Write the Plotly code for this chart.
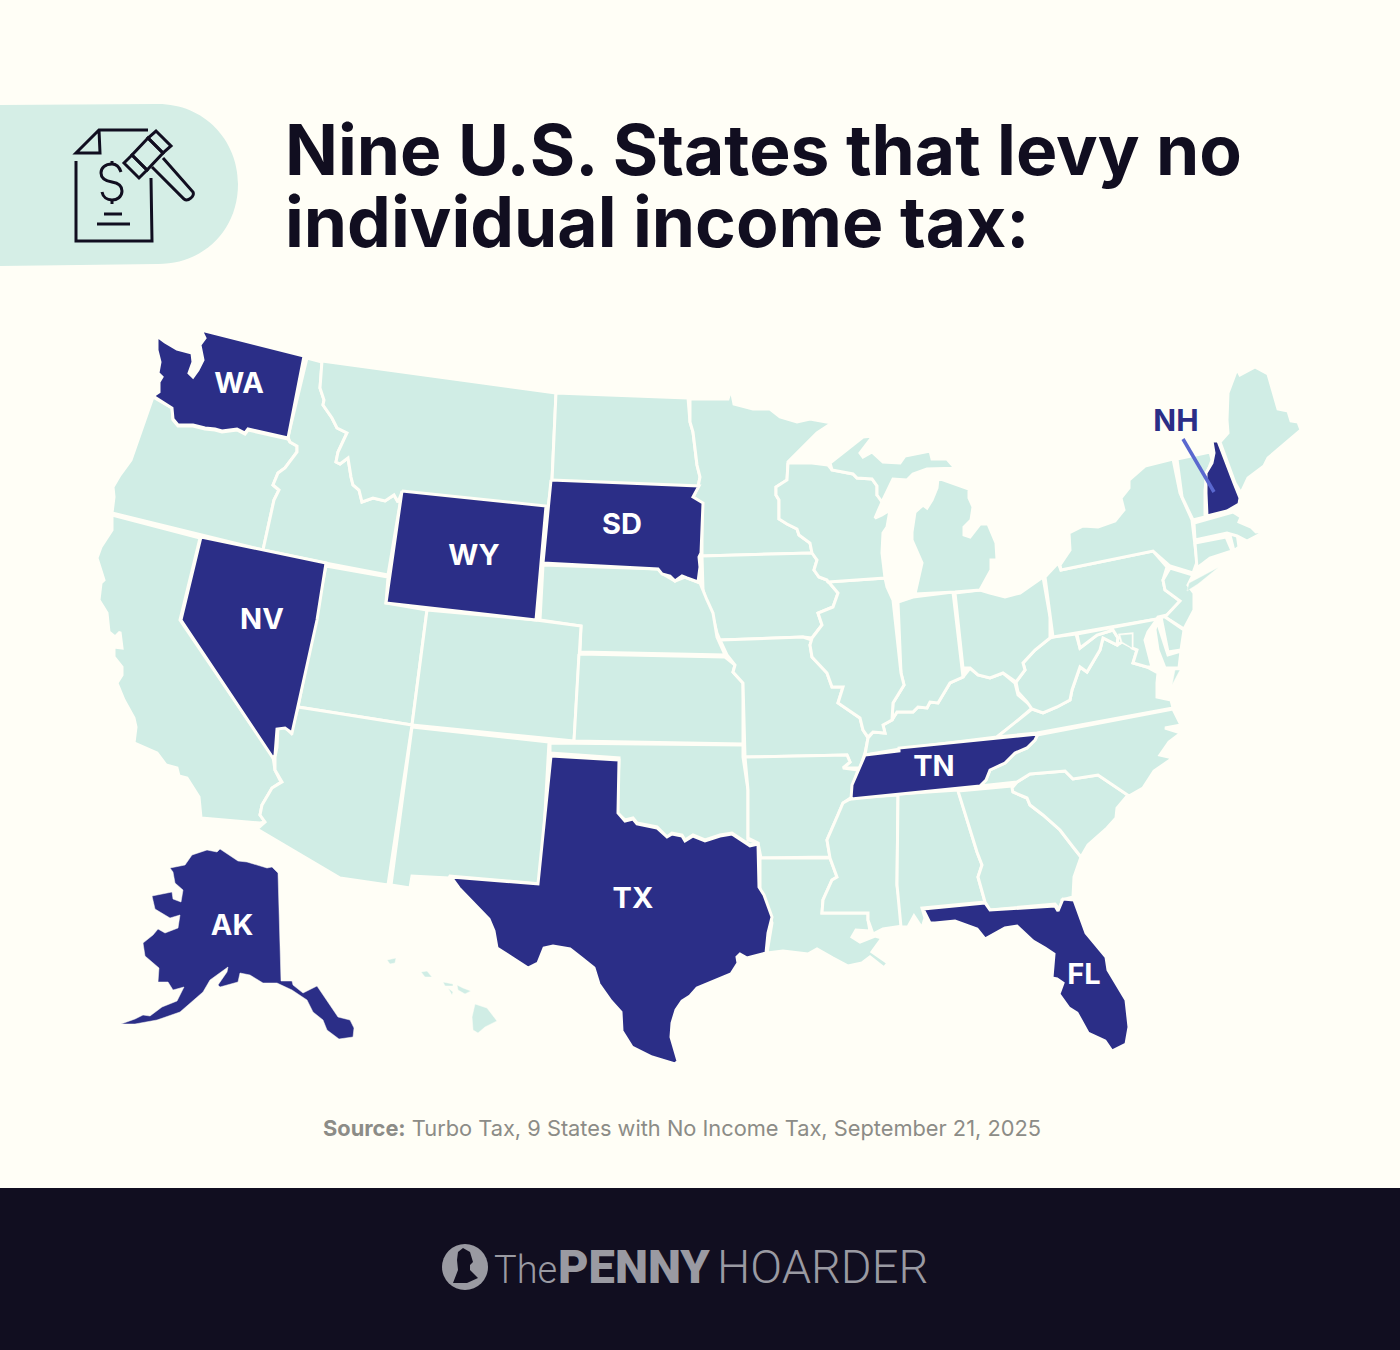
import plotly.graph_objects as go

BG = '#fffef6'
LAND = '#d0ede5'
DARK = '#2b2e87'
INK = '#110e20'
LOGO = '#9a9aa2'

# state outlines (px across, px down)
wa = [(157,336),(165,342),(177,349),(192,353),(193,362),(189,373),(193,377),(198,370),(203,360),(200,345),(205,338),(201,330),(304,356),(288,438),(248,429),(245,433),(237,429),(222,431),(215,429),(205,428),(193,425),(178,425),(173,419),(172,408),(153,396),(159,392),(159,382),(162,377),(158,373),(160,362),(157,350)]
or_ = [(153,397),(172,408),(173,420),(178,426),(193,426),(205,429),(215,430),(222,432),(237,430),(245,434),(248,430),(288,439),(290,442),(297,446),(297,452),(285,468),(278,473),(273,485),(279,490),(274,500),(263,550),(112,513),(114,497),(113,487),(120,475),(131,460)]
ca = [(112,515),(200,538),(180,620),(273,757),(275,770),(281,782),(272,788),(262,805),(260,815),(265,822),(260,823),(201,818),(199,797),(187,778),(179,776),(177,768),(166,765),(157,753),(134,743),(136,727),(134,718),(124,700),(117,683),(122,675),(122,667),(114,657),(114,647),(122,648),(120,632),(115,637),(109,632),(107,613),(99,600),(101,583),(104,580),(97,558),(101,547),(112,530)]
id_ = [(307,358),(322,362),(320,388),(324,400),(323,405),(332,418),(337,428),(347,433),(338,452),(336,462),(340,464),(348,458),(351,477),(353,485),(359,490),(362,502),(373,498),(385,501),(394,495),(398,502),(402,492),(388,575),(325,563),(263,550),(274,500),(279,490),(273,485),(278,473),(285,468),(297,452),(297,446),(290,442),(288,437)]
mt = [(322,361),(556,393),(552,480),(548,507),(402,492),(398,502),(394,495),(385,501),(373,498),(362,502),(359,490),(353,485),(351,477),(348,458),(340,464),(336,462),(338,452),(347,433),(337,428),(332,418),(323,405),(324,400),(320,388)]
wy = [(402,491),(546,506),(536,620),(386,603)]
sd = [(551,480),(699,486),(693,497),(703,503),(701,553),(699,557),(700,567),(698,582),(687,578),(682,576),(675,581),(670,576),(662,574),(658,569),(543,563)]
nd = [(556,393),(688,398),(690,422),(693,432),(697,465),(700,477),(698,487),(552,481)]
mn = [(690,399),(728,399),(731,389),(734,404),(753,409),(770,409),(780,417),(797,422),(810,419),(832,423),(817,433),(788,462),(787,480),(776,487),(776,495),(779,500),(779,519),(787,524),(797,529),(799,535),(810,543),(812,553),(702,556),(702,503),(693,497),(698,487),(700,477),(697,465),(693,432),(690,422)]
ia = [(702,556),(812,553),(817,560),(814,570),(819,577),(827,580),(838,593),(833,607),(818,613),(822,625),(812,638),(803,637),(720,640),(717,633),(713,617),(708,607),(703,590),(702,570)]
ne = [(543,565),(658,569),(663,574),(675,581),(685,577),(700,583),(707,600),(713,613),(717,637),(725,655),(580,652),(581,626),(540,620)]
nv = [(201,537),(326,563),(317,620),(292,733),(285,728),(277,729),(275,755),(273,758),(181,620)]
ut = [(326,566),(388,577),(386,603),(427,610),(412,725),(298,707)]
co = [(427,610),(536,620),(581,626),(574,741),(412,725)]
az = [(298,707),(412,725),(388,885),(340,878),(257,829),(265,822),(260,815),(262,805),(272,788),(282,782),(275,770),(275,757),(277,747),(278,728),(285,727),(291,733)]
nm = [(412,727),(549,742),(541,884),(450,876),(449,878),(412,876),(410,888),(391,885)]
ks = [(579,654),(725,657),(735,665),(733,672),(743,683),(743,744),(574,741)]
ok = [(550,743),(743,745),(743,757),(748,790),(748,840),(758,843),(750,845),(732,833),(720,835),(705,840),(693,835),(685,840),(682,835),(672,833),(667,837),(657,827),(637,823),(633,818),(625,820),(617,813),(619,758),(550,753)]
tx = [(551,756),(619,760),(618,813),(625,821),(633,819),(637,824),(657,828),(667,837),(672,834),(682,836),(685,841),(693,836),(705,841),(720,836),(732,834),(750,846),(758,844),(759,887),(764,895),(772,917),(768,933),(766,953),(747,958),(740,954),(737,957),(738,963),(731,974),(707,984),(697,988),(690,996),(682,1001),(676,1010),(672,1023),(671,1037),(678,1061),(675,1064),(652,1057),(632,1047),(622,1031),(621,1012),(611,1001),(599,984),(594,968),(579,956),(570,949),(553,946),(544,948),(538,963),(528,968),(497,948),(494,931),(489,919),(469,899),(459,888),(451,877),(538,884)]
mo = [(720,640),(803,637),(812,640),(810,645),(812,657),(827,673),(832,687),(843,687),(838,703),(860,718),(863,730),(868,738),(865,753),(860,768),(843,768),(850,762),(847,755),(745,757),(743,683),(733,672),(735,665),(727,655)]
ar = [(745,757),(847,755),(850,762),(843,768),(858,770),(853,785),(852,797),(843,803),(837,817),(827,840),(830,857),(761,858),(758,843),(748,838),(748,790)]
la = [(760,858),(830,858),(837,877),(832,880),(823,900),(822,913),(868,913),(868,920),(870,931),(856,930),(852,937),(860,942),(875,936),(882,938),(872,952),(888,963),(884,968),(870,957),(862,963),(848,966),(833,958),(817,949),(808,954),(783,951),(767,953),(772,923),(760,890)]
ms = [(852,798),(898,795),(897,885),(903,926),(883,929),(873,934),(868,920),(868,913),(822,913),(823,900),(832,880),(837,877),(830,858),(827,840),(837,817),(843,803)]
al = [(898,794),(958,790),(977,852),(982,865),(978,877),(982,890),(985,902),(922,908),(925,918),(922,928),(914,916),(908,927),(901,927),(897,885)]
ga = [(958,791),(1012,786),(1013,792),(1027,798),(1030,805),(1043,815),(1060,830),(1073,847),(1081,857),(1074,877),(1073,897),(1062,900),(1060,910),(1055,904),(990,910),(985,902),(982,890),(978,877),(982,865),(977,852)]
fl = [(923,909),(985,903),(990,910),(1055,906),(1058,911),(1063,899),(1074,900),(1081,920),(1086,933),(1106,957),(1108,970),(1126,1000),(1129,1027),(1126,1044),(1112,1051),(1105,1041),(1088,1033),(1077,1013),(1069,1008),(1059,994),(1063,983),(1057,979),(1052,978),(1054,954),(1045,948),(1033,941),(1017,926),(1005,928),(985,939),(977,929),(955,921),(935,923),(930,923),(927,917)]
sc = [(1012,788),(1017,782),(1030,774),(1065,771),(1073,779),(1098,775),(1128,795),(1117,808),(1116,818),(1107,828),(1088,845),(1081,857),(1073,847),(1060,830),(1043,815),(1030,805),(1027,798),(1013,792)]
nc = [(1037,735),(1173,709),(1181,725),(1165,728),(1181,733),(1169,742),(1160,755),(1173,758),(1154,771),(1143,788),(1129,796),(1098,775),(1073,779),(1065,771),(1030,774),(1017,782),(980,786),(986,780),(990,770),(1005,763),(1015,753),(1027,748),(1035,740)]
tn = [(865,755),(899,751),(899,748),(1038,734),(1035,740),(1027,748),(1015,753),(1005,763),(990,770),(986,780),(980,786),(851,799),(852,785),(857,773)]
ky = [(963,677),(970,668),(978,675),(990,678),(1003,673),(1015,683),(1018,695),(1030,705),(1032,708),(1015,723),(997,737),(900,749),(865,755),(868,738),(873,732),(885,733),(883,725),(892,720),(897,712),(913,712),(918,707),(927,708),(930,702),(938,703),(950,683)]
va = [(997,737),(1015,723),(1032,709),(1043,713),(1057,707),(1070,700),(1072,690),(1080,667),(1087,672),(1100,650),(1103,638),(1117,645),(1122,642),(1137,650),(1133,663),(1147,667),(1158,673),(1157,683),(1157,697),(1171,700),(1173,708),(1037,733)]
wv = [(1016,682),(1025,670),(1023,663),(1035,650),(1050,638),(1053,637),(1076,634),(1080,648),(1097,635),(1113,630),(1118,638),(1117,645),(1103,638),(1100,650),(1087,672),(1080,667),(1072,690),(1070,700),(1057,707),(1043,713),(1032,709),(1027,702),(1018,692)]
oh = [(955,593),(980,590),(990,593),(1005,597),(1020,593),(1043,577),(1050,617),(1050,638),(1035,650),(1023,663),(1025,670),(1016,682),(1003,673),(990,678),(978,675),(970,668),(963,668)]
in_ = [(898,602),(913,597),(953,592),(962,667),(963,677),(950,683),(938,703),(930,702),(927,708),(918,707),(913,712),(897,712),(892,720),(893,703),(904,685),(901,673)]
il = [(828,582),(885,578),(887,587),(893,600),(901,673),(904,685),(893,703),(892,720),(883,725),(885,733),(873,732),(868,737),(863,730),(860,718),(838,703),(843,687),(832,687),(827,673),(812,657),(810,645),(812,638),(822,625),(818,613),(833,607),(838,593),(827,580)]
wi = [(788,463),(812,463),(828,465),(832,470),(853,474),(857,478),(872,479),(877,486),(877,495),(882,497),(882,502),(875,518),(882,515),(890,510),(887,527),(883,533),(882,553),(885,578),(828,582),(827,580),(819,577),(814,570),(817,560),(812,553),(810,543),(799,535),(797,529),(787,524),(779,519),(779,500),(776,495),(776,487),(787,480)]
mi_up = [(830,463),(850,447),(863,437),(873,436),(860,453),(863,457),(872,452),(883,462),(900,463),(905,456),(930,451),(932,459),(947,459),(953,466),(963,468),(927,469),(913,474),(907,480),(893,479),(882,502),(877,495),(877,486),(872,479),(857,478),(853,474),(832,470)]
mi_lp = [(938,478),(969,489),(969,498),(973,507),(971,520),(964,527),(964,535),(970,537),(980,524),(988,524),(996,543),(997,560),(991,560),(991,570),(980,590),(955,592),(915,594),(922,563),(912,540),(912,532),(915,512),(923,505),(927,508),(932,500),(937,488)]
pa = [(1045,577),(1058,563),(1061,570),(1153,551),(1167,567),(1163,580),(1165,590),(1180,601),(1167,615),(1158,617),(1157,619),(1053,637)]
ny = [(1060,565),(1070,550),(1069,533),(1083,526),(1098,527),(1115,521),(1124,510),(1121,498),(1129,488),(1129,480),(1145,466),(1173,459),(1180,493),(1192,520),(1197,562),(1193,573),(1170,566),(1153,551),(1061,570)]
long_island = [(1189,583),(1219,567),(1198,584),(1187,591)]
nj = [(1170,568),(1193,575),(1188,585),(1194,593),(1194,610),(1184,629),(1165,617),(1180,601),(1165,590),(1163,580)]
de = [(1161,617),(1168,652),(1181,650),(1184,630),(1165,617)]
md_west = [(1077,634),(1157,619),(1155,622),(1148,632),(1145,640),(1150,660),(1152,667),(1147,667),(1133,663),(1137,650),(1132,648),(1132,634),(1120,635),(1122,642),(1117,645),(1118,638),(1113,630),(1097,635),(1080,648)]
md_east = [(1157,621),(1168,655),(1181,651),(1179,668),(1165,668),(1158,650),(1155,630)]
va_shore = [(1175,670),(1180,670),(1172,685)]
dc = [(1120,635),(1132,634),(1132,648),(1122,642)]
ct = [(1195,543),(1226,537),(1232,551),(1210,558),(1197,568)]
ri = [(1230,535),(1237,533),(1239,547),(1234,551)]
ma = [(1194,523),(1233,512),(1241,517),(1239,522),(1251,527),(1256,532),(1266,531),(1247,541),(1237,536),(1227,533),(1195,540)]
vt = [(1177,459),(1210,452),(1212,460),(1207,473),(1205,490),(1205,517),(1193,520),(1182,497)]
nh = [(1212,441),(1218,441),(1234,483),(1240,498),(1239,504),(1227,511),(1207,516),(1206,493),(1206,473),(1212,463),(1214,453)]
me = [(1220,442),(1228,433),(1227,420),(1228,393),(1237,369),(1240,375),(1255,367),(1268,374),(1278,409),(1288,411),(1291,421),(1298,422),(1301,430),(1284,444),(1268,458),(1264,466),(1248,478),(1241,493),(1235,483)]
ak = [(170,868),(185,865),(192,855),(207,850),(217,852),(220,849),(238,861),(247,862),(267,868),(272,867),(278,873),(281,981),(292,981),(293,985),(303,993),(317,986),(338,1017),(350,1020),(354,1028),(353,1037),(339,1039),(327,1030),(323,1020),(313,1012),(307,1000),(292,990),(277,983),(263,983),(250,975),(240,973),(238,982),(220,987),(218,985),(227,972),(228,967),(210,980),(203,992),(180,1012),(157,1020),(135,1024),(121,1024),(135,1019),(143,1015),(150,1016),(162,1007),(177,1001),(184,987),(173,990),(168,982),(158,982),(159,968),(145,956),(143,943),(153,935),(158,929),(165,933),(178,928),(180,915),(170,918),(155,909),(152,896),(172,892),(173,899),(181,902),(183,890),(175,883),(173,872)]
hi_kauai = [(387,960),(396,958),(395,963),(390,964)]
hi_oahu = [(421,972),(427,971),(432,977),(425,977)]
hi_molokai = [(443,982),(453,984),(453,986),(445,986)]
hi_lanai = [(448,988),(453,992),(452,995)]
hi_maui = [(457,985),(463,988),(471,991),(465,994),(458,990)]
hi_big = [(475,1004),(487,1008),(497,1021),(485,1027),(478,1033),(473,1030),(472,1017)]

land_states = [or_, ca, id_, mt, nd, mn, ia, ne, ut, co, az, nm, ks, ok, mo, ar, la, ms, al, ga, sc, nc, ky, va, wv, oh, in_, il, wi,
               mi_up, mi_lp, pa, ny, nj, de, md_west, md_east, ct, ri, ma, vt, me]
small_land = [long_island, va_shore, dc, hi_kauai, hi_oahu, hi_molokai, hi_lanai, hi_maui, hi_big]
no_tax_states = [wa, nv, wy, sd, tx, tn, fl, nh]

label_text = ['WA', 'NV', 'WY', 'SD', 'TX', 'TN', 'AK', 'FL']
label_x = [239, 262, 474, 622, 633, 934, 232, 1084]
label_y = [386, 622, 558, 527, 901, 769, 928, 977]


def add_state(fig, pts, color, width=3):
    fig.add_trace(go.Scatter(x=[p[0] for p in pts] + [pts[0][0]], y=[p[1] for p in pts] + [pts[0][1]],
                             mode='lines', fill='toself', fillcolor=color,
                             line=dict(color=BG, width=width), hoverinfo='skip', showlegend=False))


fig = go.Figure()
for s in land_states:
    add_state(fig, s, LAND)
for s in small_land:
    add_state(fig, s, LAND, 0.5)
for s in no_tax_states:
    add_state(fig, s, DARK)
add_state(fig, ak, DARK, 0.5)  # AK has no neighbours, keep the thin tail

fig.add_trace(go.Scatter(x=label_x, y=label_y, text=label_text, mode='text',
                         textfont=dict(family='Inter', size=29, color='white', weight=700),
                         hoverinfo='skip', showlegend=False))
# NH sits outside the state with a leader
fig.add_trace(go.Scatter(x=[1183, 1214], y=[439, 492], mode='lines', line=dict(color='#5a68cf', width=3.5),
                         hoverinfo='skip', showlegend=False))
fig.add_trace(go.Scatter(x=[1176], y=[423], text=['NH'], mode='text',
                         textfont=dict(family='Inter', size=30, color=DARK, weight=700),
                         hoverinfo='skip', showlegend=False))

ic = dict(color=INK, width=3)
shapes = [
    dict(type='path', path='M 0,105 L 158,104 C 204,104 238,140 238,184 C 238,230 204,264 158,264 L 0,266 Z',
         fillcolor='#d5eee6', line_width=0, layer='below'),
    dict(type='rect', x0=0, x1=1400, y0=1188, y1=1350, fillcolor=INK, line_width=0, layer='below'),
    # document icon
    dict(type='path', path='M 76,161 L 76,241 L 152,241 L 151,178', line=ic),
    dict(type='path', path='M 148,130 L 99,130 L 76,153 L 100,153 L 99,130', line=ic),
    dict(type='path', path='M 121,172 C 119,166 115,164 112,164 C 105,164 101,168 101,173 C 101,179 106,181 112,182 '
                           'C 118,183 122,186 122,191 C 122,197 117,200 112,200 C 107,200 103,197 102,192', line=ic),
    dict(type='line', x0=112, x1=112, y0=161, y1=165, line=ic),
    dict(type='line', x0=112, x1=112, y0=200, y1=204, line=ic),
    dict(type='line', x0=104, x1=122, y0=214, y1=214, line=ic),
    dict(type='line', x0=97, x1=130, y0=224, y1=224, line=ic),
    # gavel
    dict(type='path', path='M 156,131 L 171,146 L 163,153 L 148,138 Z', line=ic),
    dict(type='path', path='M 124,163 L 139,178 L 147,170 L 132,155 Z', line=ic),
    dict(type='path', path='M 148,138 L 132,155 L 147,170 L 163,153 Z', line=ic),
    dict(type='path', path='M 152,167 L 184,199 C 188,202 195,196 193,192 L 163,158', line=ic),
    # logo coin
    dict(type='circle', x0=442, x1=488, y0=1244, y1=1290, fillcolor=LOGO, line_width=0),
    dict(type='path', path='M 463,1248 L 470,1252 L 473,1262 L 470,1265 L 470,1270 L 478,1278 L 467,1283 '
                           'L 453,1283 L 458,1270 L 457,1260 L 458,1252 Z', fillcolor=INK, line_width=0),
]

annos = [
    dict(x=283, y=150, text='Nine U.S. States that levy no', font=dict(family='Inter', size=69.5, color=INK, weight=700)),
    dict(x=283, y=222, text='individual income tax:', font=dict(family='Inter', size=69.5, color=INK, weight=700)),
    dict(x=321, y=1128, text='<b>Source:</b> Turbo Tax, 9 States with No Income Tax, September 21, 2025',
         font=dict(family='Inter', size=21.8, color='#8c8c87')),
    dict(x=492, y=1270, text='The', font=dict(family='Roboto', size=38, color=LOGO, weight=300)),
    dict(x=556, y=1266, text='PENNY', font=dict(family='Roboto', size=47, color=LOGO, weight=900)),
    dict(x=715, y=1266, text='HOARDER', font=dict(family='Roboto', size=47, color=LOGO, weight=300)),
]
for a in annos:
    a.update(xref='x', yref='y', xanchor='left', yanchor='middle', showarrow=False)

fig.update_layout(width=1400, height=1350, margin=dict(l=0, r=0, t=0, b=0), paper_bgcolor=BG, plot_bgcolor=BG,
                  xaxis=dict(range=[0, 1400], visible=False, fixedrange=True),
                  yaxis=dict(range=[1350, 0], visible=False, fixedrange=True),
                  shapes=shapes, annotations=annos, showlegend=False)
fig.write_html("out.html", post_script="document.body.style.margin='0';document.body.style.background='%s';" % BG,
               config={'displayModeBar': False})
